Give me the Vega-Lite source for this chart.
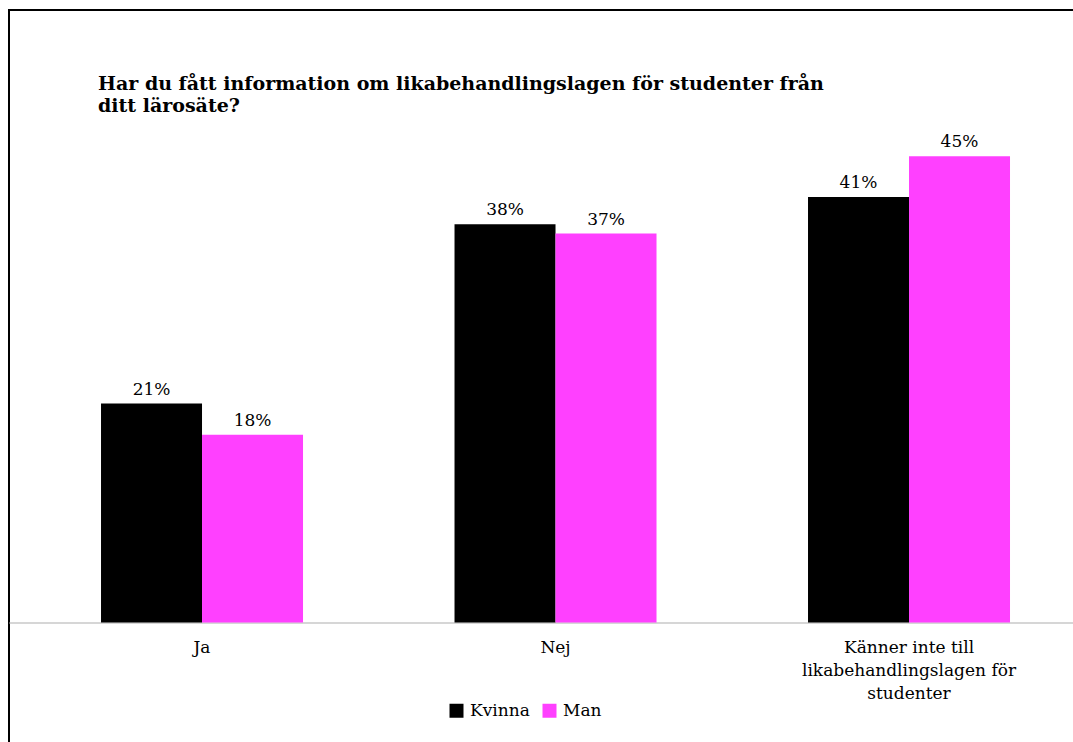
{
  "$schema": "https://vega.github.io/schema/vega-lite/v6.json",
  "autosize": "none",
  "padding": {"left": 9, "top": 10, "right": 0, "bottom": 0},
  "width": 1071,
  "height": 740,
  "background": "white",
  "config": {
    "view": {"stroke": "#000000", "strokeWidth": 2},
    "font": "DejaVu Serif"
  },
  "title": {
    "text": ["Har du fått information om likabehandlingslagen för studenter från", "ditt lärosäte?"],
    "anchor": "start",
    "orient": "top",
    "frame": "group",
    "baseline": "top",
    "offset": -106,
    "dx": 89,
    "font": "DejaVu Serif",
    "fontSize": 19,
    "fontWeight": "bold",
    "color": "#000000",
    "lineHeight": 22
  },
  "data": {
    "values": [
      {"svar": "Ja", "kon": "Kvinna", "andel": 0.210},
      {"svar": "Ja", "kon": "Man", "andel": 0.180},
      {"svar": "Nej", "kon": "Kvinna", "andel": 0.382},
      {"svar": "Nej", "kon": "Man", "andel": 0.373},
      {"svar": "Känner inte till likabehandlingslagen för studenter", "kon": "Kvinna", "andel": 0.408},
      {"svar": "Känner inte till likabehandlingslagen för studenter", "kon": "Man", "andel": 0.447}
    ]
  },
  "encoding": {
    "x": {
      "field": "svar",
      "type": "nominal",
      "sort": ["Ja", "Nej", "Känner inte till likabehandlingslagen för studenter"],
      "scale": {"paddingInner": 0.42857, "paddingOuter": 0.22914, "align": 0.568},
      "axis": {
        "orient": "bottom",
        "offset": -127.5,
        "title": null,
        "labelAngle": 0,
        "ticks": false,
        "domainColor": "#c8c8c8",
        "domainWidth": 1.5,
        "labelFont": "DejaVu Serif",
        "labelFontSize": 17,
        "labelColor": "#000000",
        "labelPadding": 17,
        "labelLineHeight": 23,
        "labelLimit": 400,
        "labelExpr": "datum.value == 'Känner inte till likabehandlingslagen för studenter' ? ['Känner inte till', 'likabehandlingslagen för', 'studenter'] : datum.label"
      }
    },
    "xOffset": {"field": "kon", "type": "nominal", "sort": ["Kvinna", "Man"]},
    "y": {
      "field": "andel",
      "type": "quantitative",
      "scale": {"domain": [-0.1222, 0.5873], "zero": false, "nice": false},
      "axis": null
    }
  },
  "layer": [
    {
      "mark": {"type": "bar", "clip": false},
      "encoding": {
        "y2": {"datum": 0},
        "color": {
          "field": "kon",
          "type": "nominal",
          "sort": ["Kvinna", "Man"],
          "scale": {"domain": ["Kvinna", "Man"], "range": ["#000000", "#ff40ff"]},
          "legend": {
            "title": null,
            "orient": "none",
            "legendX": 439,
            "legendY": 692,
            "direction": "horizontal",
            "padding": 0,
            "symbolType": "square",
            "symbolSize": 196,
            "symbolStrokeWidth": 0,
            "labelFont": "DejaVu Serif",
            "labelFontSize": 17,
            "labelColor": "#000000",
            "labelOffset": 5,
            "columnPadding": 11
          }
        }
      }
    },
    {
      "mark": {"type": "text", "baseline": "alphabetic", "dy": -9, "fontSize": 17, "font": "DejaVu Serif", "color": "#000000"},
      "encoding": {
        "text": {"field": "andel", "type": "quantitative", "format": ".0%"}
      }
    }
  ]
}
